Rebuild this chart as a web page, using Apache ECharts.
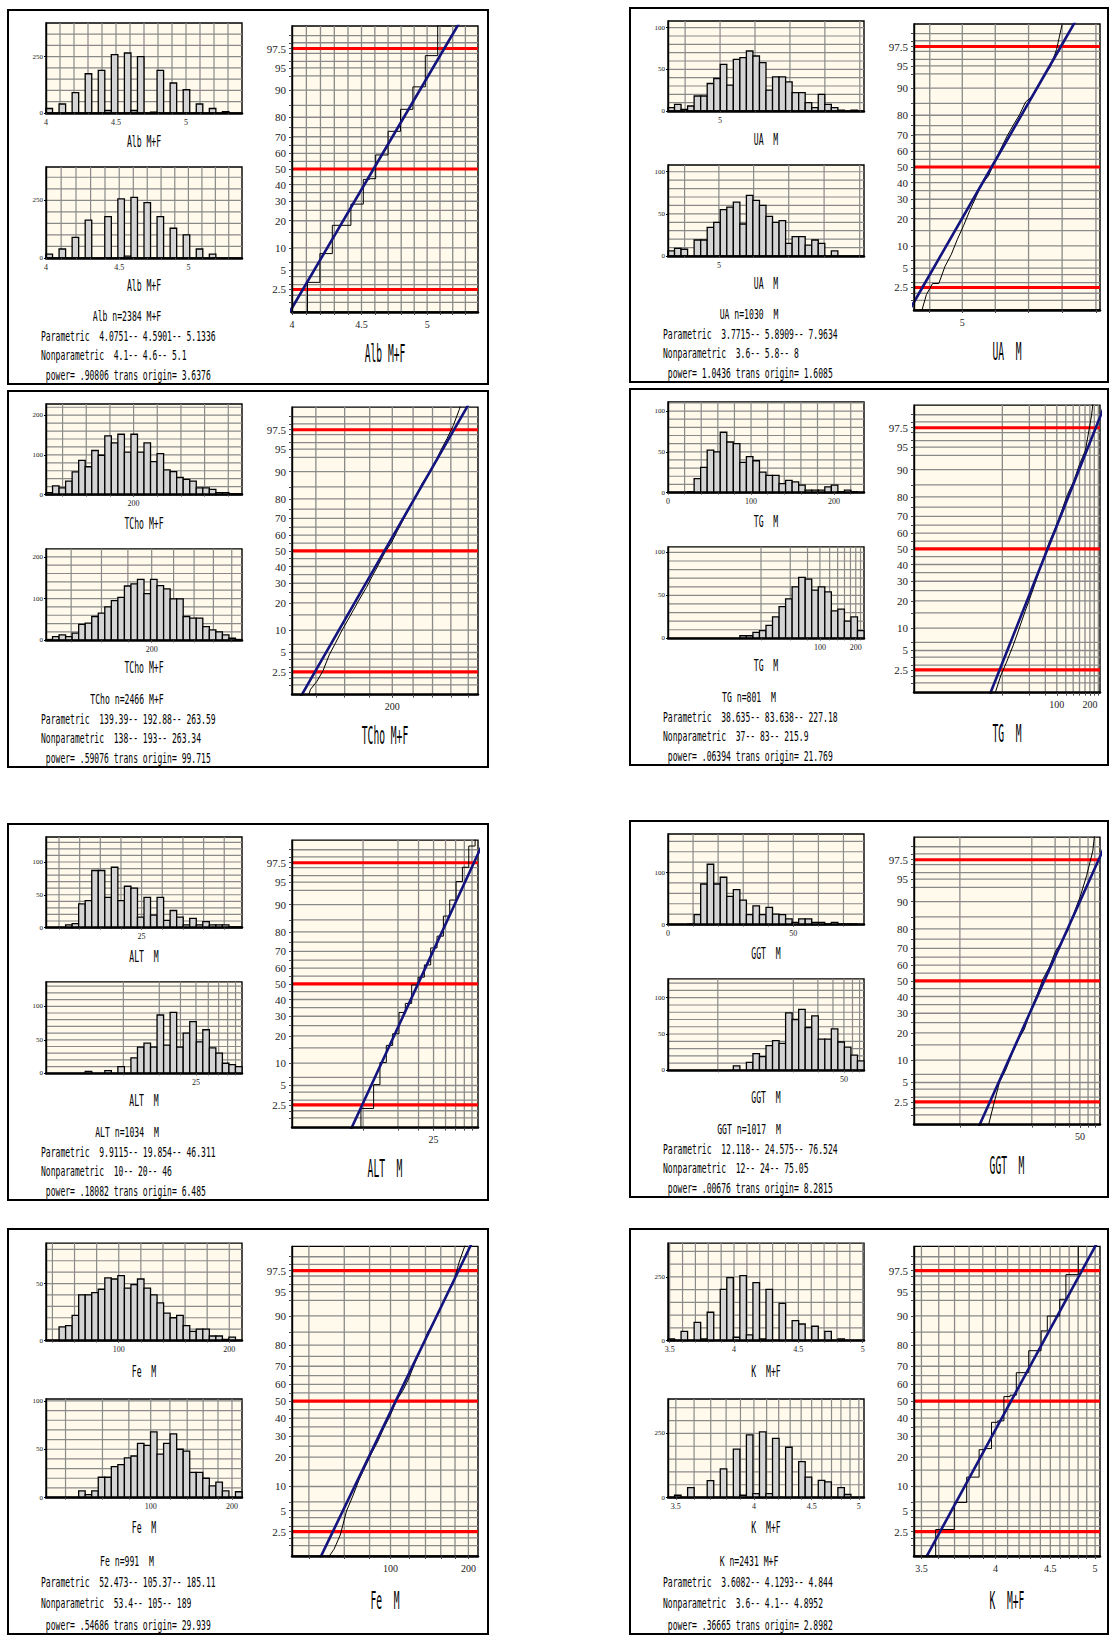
<!DOCTYPE html>
<html><head><meta charset="utf-8">
<script src="https://cdn.jsdelivr.net/npm/echarts@6/dist/echarts.min.js"></script>
<style>html,body{margin:0;padding:0;background:#fff;}#c{width:1112px;height:1636px;}</style>
</head><body><div id="c"></div>
<script>
// ================= DATA =================
// Alb
const albText = ['Alb M+F', 'Alb n=2384 M+F', 'Parametric  4.0751-- 4.5901-- 5.1336', 'Nonparametric  4.1-- 4.6-- 5.1', ' power= .90806 trans origin= 3.6376'];
const albTrans = [3.6376, 0.90806];
const albParam = [4.0751, 4.5901, 5.1336];
const albH1Axis = [4.0, 5.4, 0.1], albH1Labels = [4, 4.5, 5], albH1Y = [50, 250];
const albH1 = [20,0,40,0,90,0,174,0,189,11,259,0,266,11,250,0,4,189,0,133,0,103,0,40,0,20,0,6,0,0];
const albH2Axis = [4.0, 5.4, 0.1], albH2Labels = [4, 4.5, 5], albH2Y = [50, 250];
const albH2 = [17,0,39,0,89,0,164,0,0,179,0,256,8,263,0,240,0,179,0,129,0,100,0,39,0,17,0,0,0,0];
const albPPAxis = [4.0, 5.4, 0.1], albPPLabels = [4, 4.5, 5];
// UA
const uaText = ['UA  M', 'UA n=1030  M', 'Parametric  3.7715-- 5.8909-- 7.9634', 'Nonparametric  3.6-- 5.8-- 8', ' power= 1.0436 trans origin= 1.6085'];
const uaTrans = [1.6085, 1.0436];
const uaParam = [3.7715, 5.8909, 7.9634];
const uaH1Axis = [3.51, 9.12, 1], uaH1Labels = [5], uaH1Y = [10, 50];
const uaH1 = [4,8,2,6,18,18,33,39,56,31,62,64,72,66,58,25,41,41,35,22,22,10,4,20,8,4,1,0,1,0];
const uaH2Axis = [3.51, 9.12, 1], uaH2Labels = [5], uaH2Y = [10, 50];
const uaH2 = [6,9,8,0,19,19,34,40,55,58,64,38,72,66,60,47,40,42,15,23,23,13,19,15,0,6,0,0,0,0];
const uaPPAxis = [3.51, 9.12, 1], uaPPLabels = [5];
// TCho
const tchoText = ['TCho M+F', 'TCho n=2466 M+F', 'Parametric  139.39-- 192.88-- 263.59', 'Nonparametric  138-- 193-- 263.34', ' power= .59076 trans origin= 99.715'];
const tchoTrans = [99.715, 0.59076];
const tchoParam = [139.39, 192.88, 263.59];
const tchoH1Axis = [126, 291.6, 20], tchoH1Labels = [200], tchoH1Y = [20, 100];
const tchoH1 = [5,22,17,34,57,86,70,111,99,148,130,152,107,152,107,130,83,103,62,58,43,38,34,17,17,13,5,5,2,2];
const tchoH2Axis = [126, 291.6, 20], tchoH2Labels = [200], tchoH2Y = [20, 100];
const tchoH2 = [2,9,13,9,17,38,41,57,65,80,95,103,130,135,146,112,146,131,123,99,99,57,53,53,33,25,20,13,5,2];
const tchoPPAxis = [126, 291.6, 20], tchoPPLabels = [200];
// TG
const tgText = ['TG  M', 'TG n=801  M', 'Parametric  38.635-- 83.638-- 227.18', 'Nonparametric  37-- 83-- 215.9', ' power= .06394 trans origin= 21.769'];
const tgTrans = [21.769, 0.06394];
const tgParam = [38.635, 83.638, 227.18];
const tgH1Axis = [0, 236, 20], tgH1Labels = [0, 100, 200], tgH1Y = [10, 50];
const tgH1 = [0,0,0,1,17,31,52,50,74,62,60,37,44,39,25,21,21,11,15,13,9,3,3,3,7,9,1,3,1,0];
const tgH2Axis = [23.1, 236, 20], tgH2Labels = [100, 200], tgH2Y = [10, 50];
const tgH2 = [0,0,0,0,0,0,0,0,0,0,0,3,3,7,9,15,25,37,46,60,71,69,56,60,54,32,34,20,25,9];
const tgPPAxis = [23, 249, 20], tgPPLabels = [100, 200];
// ALT
const altText = ['ALT  M', 'ALT n=1034  M', 'Parametric  9.9115-- 19.854-- 46.311', 'Nonparametric  10-- 20-- 46', ' power= .18082 trans origin= 6.485'];
const altTrans = [6.485, 0.18082];
const altParam = [9.9115, 19.854, 46.311];
const altH1Axis = [1.85, 49.3, 5], altH1Labels = [25], altH1Y = [10, 50];
const altH1 = [0,0,0,4,6,36,41,87,87,46,92,41,63,60,16,46,19,46,11,26,16,4,14,4,9,4,4,4,1,1];
const altH2Axis = [6.75, 49.5, 5], altH2Labels = [25], altH2Y = [10, 50];
const altH2 = [0,0,0,0,0,0,3,0,0,4,0,10,0,23,39,45,39,87,42,91,39,60,77,47,65,38,30,15,13,10];
const altPPAxis = [6.8, 49.3, 5], altPPLabels = [25];
// GGT
const ggtText = ['GGT  M', 'GGT n=1017  M', 'Parametric  12.118-- 24.575-- 76.524', 'Nonparametric  12-- 24-- 75.05', ' power= .00676 trans origin= 8.2815'];
const ggtTrans = [8.2815, 0.00676];
const ggtParam = [12.118, 24.575, 76.524];
const ggtH1Axis = [0, 78.2, 10], ggtH1Labels = [0, 50], ggtH1Y = [20, 100];
const ggtH1 = [0,0,0,1,19,78,116,78,91,54,67,47,19,36,19,33,20,19,11,4,11,11,4,4,1,4,1,1,1,0];
const ggtH2Axis = [8.76, 77.2, 10], ggtH2Labels = [50], ggtH2Y = [10, 50];
const ggtH2 = [0,0,0,0,0,0,0,0,0,0,6,0,11,23,19,34,41,37,79,70,84,59,75,43,43,57,39,32,21,13];
const ggtPPAxis = [8.78, 79, 10], ggtPPLabels = [50];
// Fe
const feText = ['Fe  M', 'Fe n=991  M', 'Parametric  52.473-- 105.37-- 185.11', 'Nonparametric  53.4-- 105-- 189', ' power= .54686 trans origin= 29.939'];
const feTrans = [29.939, 0.54686];
const feParam = [52.473, 105.37, 185.11];
const feH1Axis = [34.2, 211.5, 20], feH1Labels = [100, 200], feH1Y = [10, 50];
const feH1 = [0,0,12,13,22,40,40,42,45,55,54,57,46,49,54,46,40,33,24,20,22,13,8,10,10,4,4,1,3,0];
const feH2Axis = [33.5, 215, 20], feH2Labels = [100, 200], feH2Y = [10, 50];
const feH2 = [0,0,0,0,0,7,3,7,21,21,32,34,41,43,56,54,68,45,56,66,50,48,26,26,20,12,16,7,0,6];
const fePPAxis = [34, 215, 20], fePPLabels = [100, 200];
// K
const kText = ['K  M+F', 'K n=2431 M+F', 'Parametric  3.6082-- 4.1293-- 4.844', 'Nonparametric  3.6-- 4.1-- 4.8952', ' power= .36665 trans origin= 2.8982'];
const kTrans = [2.8982, 0.36665];
const kParam = [3.6082, 4.1293, 4.844];
const kH1Axis = [3.487, 5.01, 0.1], kH1Labels = [3.5, 4, 4.5, 5], kH1Y = [50, 250];
const kH1 = [6,0,36,0,71,6,111,0,201,247,13,255,22,227,6,201,0,146,0,78,65,0,56,0,36,0,6,0,0,0];
const kH2Axis = [3.46, 5.06, 0.1], kH2Labels = [3.5, 4, 4.5, 5], kH2Y = [50, 250];
const kH2 = [0,9,0,39,0,0,66,0,112,0,189,9,244,15,256,15,231,0,196,0,140,80,0,67,61,0,39,12,0,0];
const kPPAxis = [3.46, 5.06, 0.1], kPPLabels = [3.5, 4, 4.5, 5];
// probability axis
const gridPct = [1.5,2,2.5,3,4,5,6.5,10,15,20,25,30,35,40,45,50,55,60,65,70,75,80,85,90,93.5,95,96,97,97.5,98,98.5];
const tickPct = [2.5,5,10,20,30,40,50,60,70,80,90,95,97.5];
const refPct = [2.5, 50, 97.5];

// ================= HELPERS =================
const SERIF = '"Liberation Serif","DejaVu Serif",serif';
const MONO = '"DejaVu Sans Mono","Liberation Mono",monospace';
const BG = '#fffaeb', GRIDC = '#8a8a8a';
function Z(pct){const p=pct/100;
const a=[-3.969683028665376e+01,2.209460984245205e+02,-2.759285104469687e+02,1.383577518672690e+02,-3.066479806614716e+01,2.506628277459239e+00];
const b=[-5.447609879822406e+01,1.615858368580409e+02,-1.556989798598866e+02,6.680131188771972e+01,-1.328068155288572e+01];
const c=[-7.784894002430293e-03,-3.223964580411365e-01,-2.400758277161838e+00,-2.549732539343734e+00,4.374664141464968e+00,2.938163982698783e+00];
const d=[7.784695709041462e-03,3.224671290700398e-01,2.445134137142996e+00,3.754408661907416e+00];
const pl=0.02425;let q,r;
if(p<pl){q=Math.sqrt(-2*Math.log(p));return (((((c[0]*q+c[1])*q+c[2])*q+c[3])*q+c[4])*q+c[5])/((((d[0]*q+d[1])*q+d[2])*q+d[3])*q+1);}
if(p<=1-pl){q=p-0.5;r=q*q;return (((((a[0]*r+a[1])*r+a[2])*r+a[3])*r+a[4])*r+a[5])*q/(((((b[0]*r+b[1])*r+b[2])*r+b[3])*r+b[4])*r+1);}
q=Math.sqrt(-2*Math.log(1-p));return -(((((c[0]*q+c[1])*q+c[2])*q+c[3])*q+c[4])*q+c[5])/((((d[0]*q+d[1])*q+d[2])*q+d[3])*q+1);}
const Zc = p => p <= 0 ? -3.5 : (p >= 100 ? 3.5 : Z(p));
const ZM = Z(99);
const T = (tr, x) => Math.pow(x - tr[0], tr[1]);
function steps(a, b, st){const out=[];for(let k=Math.ceil(a/st-1e-9);k*st<=b+1e-9;k++){out.push(Math.round(k*st*1e6)/1e6);}return out;}
function inner(a, b, vals){const e=(b-a)*1e-4;return vals.filter(v=>v>a+e&&v<b-e);}
function nearestFmt(vals, labels){return v=>{let bi=0,bd=Infinity;vals.forEach((u,i)=>{const dd=Math.abs(u-v);if(dd<bd){bd=dd;bi=i;}});return String(labels[bi]);};}
function sp(s){return s.replace(/^ /,'\u00a0').replace(/  /g,' \u00a0');}

const option = {animation:false, backgroundColor:'#ffffff', grid:[], xAxis:[], yAxis:[], series:[], graphic:[]};

function addGrid(r){option.grid.push({left:r.x, top:r.y, width:r.w, height:r.h, show:true, backgroundColor:BG, borderColor:'#000', borderWidth:1.4, containLabel:false});return option.grid.length-1;}
function lineSeries(xi, yi, vals, dir, color, width, z){
  return {type:'custom', xAxisIndex:xi, yAxisIndex:yi, z:z, silent:true,
    data: vals.map(v => dir === 'v' ? [v, 0] : [0, v]), encode:{x:0, y:1},
    renderItem:(params, api)=>{const cs=params.coordSys;const p=api.coord([api.value(0),api.value(1)]);
      if(dir==='v') return {type:'line', shape:{x1:p[0],y1:cs.y,x2:p[0],y2:cs.y+cs.height}, style:{stroke:color,lineWidth:width}};
      return {type:'line', shape:{x1:cs.x,y1:p[1],x2:cs.x+cs.width,y2:p[1]}, style:{stroke:color,lineWidth:width}};}};
}
function addText(x, y, s, cap, cw, align){
  const fs = cap/0.73, sx = cw/(0.602*fs);
  option.graphic.push({type:'text', x:x, y:y, scaleX:sx, z:100, silent:true,
    style:{text:sp(s), fontSize:fs, fontFamily:MONO, fill:'#000', align:align, verticalAlign:'middle', textAlign:align, textVerticalAlign:'middle'}});
}

function histogram(P, counts, ax, labs, yg, trans, r){
  const g = addGrid(r);
  const f = trans ? (x => T(P.tr, x)) : (x => x);
  const lo = f(ax[0]), hi = f(ax[1]);
  const xi = option.xAxis.length, yi = option.yAxis.length;
  const ymax = 1.5*Math.max(...counts);
  const gv = inner(ax[0], ax[1], steps(ax[0], ax[1], ax[2])).map(f);
  const lv = labs.map(f);
  option.xAxis.push({type:'value', gridIndex:g, min:lo, max:hi, z:10,
    axisLine:{show:true, onZero:false, lineStyle:{color:'#000', width:2.5}},
    axisTick:{show:true, customValues:gv.concat(lv), length:2, lineStyle:{color:'#444', width:1}},
    axisLabel:{show:true, customValues:lv, formatter:nearestFmt(lv, labs), fontFamily:SERIF, fontSize:8, color:'#222', margin:5},
    splitLine:{show:false}});
  const yl = steps(0, ymax, yg[1]);
  option.yAxis.push({type:'value', gridIndex:g, min:0, max:ymax, z:10,
    axisLine:{show:true, lineStyle:{color:'#000', width:1.4}},
    axisTick:{show:true, customValues:yl, length:2, lineStyle:{color:'#000'}},
    axisLabel:{show:true, customValues:yl, fontFamily:SERIF, fontSize:7, color:'#222', margin:3},
    splitLine:{show:false}});
  option.series.push(lineSeries(xi, yi, gv, 'v', GRIDC, 1.2, 1));
  option.series.push(lineSeries(xi, yi, inner(0, ymax, steps(0, ymax, yg[0])), 'h', GRIDC, 1.2, 1));
  const bw = (hi - lo)/counts.length;
  const data = [];
  counts.forEach((c, k) => { if (c > 0) data.push([lo + k*bw, lo + (k+1)*bw, c]); });
  option.series.push({type:'custom', xAxisIndex:xi, yAxisIndex:yi, z:2, silent:true, data:data, encode:{x:[0,1], y:2},
    renderItem:(params, api)=>{const a=api.coord([api.value(0),api.value(2)]);const b=api.coord([api.value(1),0]);
      return {type:'rect', shape:{x:a[0], y:a[1], width:b[0]-a[0], height:b[1]-a[1]}, style:{fill:'#d4d4d4', stroke:'#000', lineWidth:1.3}};}});
}

function prob(P, r, mode){
  const g = addGrid(r);
  const f = x => T(P.tr, x);
  const lo = f(P.ppAxis[0]), hi = f(P.ppAxis[1]);
  const xi = option.xAxis.length, yi = option.yAxis.length;
  const gv = inner(P.ppAxis[0], P.ppAxis[1], steps(P.ppAxis[0], P.ppAxis[1], P.ppAxis[2])).map(f);
  const lv = P.ppLabels.map(f);
  option.xAxis.push({type:'value', gridIndex:g, min:lo, max:hi, z:10,
    axisLine:{show:true, onZero:false, lineStyle:{color:'#000', width:2.5}},
    axisTick:{show:true, customValues:gv.concat(lv), length:3, lineStyle:{color:'#444'}},
    axisLabel:{show:true, customValues:lv, formatter:nearestFmt(lv, P.ppLabels), fontFamily:SERIF, fontSize:10, color:'#222', margin:7},
    splitLine:{show:false}});
  const tz = tickPct.map(Z);
  option.yAxis.push({type:'value', gridIndex:g, min:-ZM, max:ZM, z:10,
    axisLine:{show:true, onZero:false, lineStyle:{color:'#000', width:1.4}},
    axisTick:{show:true, customValues:gridPct.map(Z), length:3, lineStyle:{color:'#444'}},
    axisLabel:{show:true, customValues:tz, formatter:nearestFmt(tz, tickPct), fontFamily:SERIF, fontSize:11, color:'#222', margin:6},
    splitLine:{show:false}});
  option.series.push(lineSeries(xi, yi, gv, 'v', GRIDC, 1.3, 1));
  option.series.push(lineSeries(xi, yi, gridPct.map(Z), 'h', GRIDC, 1.3, 1));
  option.series.push(lineSeries(xi, yi, refPct.map(Z), 'h', '#ff0000', 3.2, 3));
  // empirical cumulative distribution, accumulated from the second histogram's counts
  const h2lo = f(P.h2Axis[0]), h2hi = f(P.h2Axis[1]), bw = (h2hi - h2lo)/P.h2.length;
  const N = P.h2.reduce((s, c) => s + c, 0);
  let cum = 0; const pts = [];
  if (mode === 'step') {
    P.h2.forEach((c, k) => { if (!c) return; const xc = h2lo + (k + 0.5)*bw; pts.push([xc, Zc(cum/N*100)]); cum += c; pts.push([xc, Zc(cum/N*100)]); });
  } else {
    const k0 = P.h2.findIndex(c => c > 0);
    pts.push([h2lo + k0*bw, Zc(0)]);
    P.h2.forEach((c, k) => { if (k < k0) return; cum += c; pts.push([h2lo + (k + 1)*bw, Zc(cum/(N + 1)*100)]); });
  }
  option.series.push({type:'line', xAxisIndex:xi, yAxisIndex:yi, z:4, silent:true, data:pts, showSymbol:false, symbol:'none', clip:true,
    lineStyle:{color:'#000', width:1}});
  // fitted normal line through the parametric limits
  const tl = f(P.param[0]), tm = f(P.param[1]), th = f(P.param[2]);
  const zl = Z(2.5), zh = Z(97.5), sl = (th - tl)/(zh - zl);
  const fit = [[tl + (-3 - zl)*sl, -3], [tl, zl], [tm, 0], [th, zh], [tl + (3 - zl)*sl, 3]];
  option.series.push({type:'line', xAxisIndex:xi, yAxisIndex:yi, z:5, silent:true, data:fit, showSymbol:false, symbol:'none', clip:true,
    lineStyle:{color:'#14147e', width:2.6}});
}

const colX = [8, 630], colW = [480, 478];
const rowY = [[10, 8], [391, 389], [824, 821], [1229, 1229]];
const rowH = [374, 376, 376, 405];

function build(P, col, row, mode){
  const px = colX[col], py = rowY[row][col], h = rowH[row], w = colW[col], s = h/374;
  option.graphic.push({type:'rect', z:50, silent:true, shape:{x:px, y:py, width:w, height:h}, style:{fill:'transparent', stroke:'#000', lineWidth:2}});
  histogram(P, P.h1, P.h1Axis, P.h1Labels, P.h1Y, false, {x:px+38, y:py+13*s, w:196, h:90*s});
  histogram(P, P.h2, P.h2Axis, P.h2Labels, P.h2Y, true, {x:px+38, y:py+157*s, w:196, h:91*s});
  prob(P, {x:px+284, y:py+16*s, w:186, h:286*s}, mode);
  addText(px+136, py+132*s, P.text[0], 11, 4.9, 'center');
  addText(px+136, py+276*s, P.text[0], 11, 4.9, 'center');
  addText(px+377, py+343*s, P.text[0], 18.5, 5.8, 'center');
  addText(px+119, py+307*s, P.text[1], 9.9, 4.9, 'center');
  addText(px+33, py+327*s, P.text[2], 9.9, 4.86, 'left');
  addText(px+33, py+346*s, P.text[3], 9.9, 4.86, 'left');
  addText(px+33, py+366*s, P.text[4], 9.9, 4.86, 'left');
}

const panels = [
  {P:{text:albText, tr:albTrans, param:albParam, h1:albH1, h1Axis:albH1Axis, h1Labels:albH1Labels, h1Y:albH1Y, h2:albH2, h2Axis:albH2Axis, h2Labels:albH2Labels, h2Y:albH2Y, ppAxis:albPPAxis, ppLabels:albPPLabels}, col:0, row:0, mode:'step'},
  {P:{text:uaText, tr:uaTrans, param:uaParam, h1:uaH1, h1Axis:uaH1Axis, h1Labels:uaH1Labels, h1Y:uaH1Y, h2:uaH2, h2Axis:uaH2Axis, h2Labels:uaH2Labels, h2Y:uaH2Y, ppAxis:uaPPAxis, ppLabels:uaPPLabels}, col:1, row:0, mode:'poly'},
  {P:{text:tchoText, tr:tchoTrans, param:tchoParam, h1:tchoH1, h1Axis:tchoH1Axis, h1Labels:tchoH1Labels, h1Y:tchoH1Y, h2:tchoH2, h2Axis:tchoH2Axis, h2Labels:tchoH2Labels, h2Y:tchoH2Y, ppAxis:tchoPPAxis, ppLabels:tchoPPLabels}, col:0, row:1, mode:'poly'},
  {P:{text:tgText, tr:tgTrans, param:tgParam, h1:tgH1, h1Axis:tgH1Axis, h1Labels:tgH1Labels, h1Y:tgH1Y, h2:tgH2, h2Axis:tgH2Axis, h2Labels:tgH2Labels, h2Y:tgH2Y, ppAxis:tgPPAxis, ppLabels:tgPPLabels}, col:1, row:1, mode:'poly'},
  {P:{text:altText, tr:altTrans, param:altParam, h1:altH1, h1Axis:altH1Axis, h1Labels:altH1Labels, h1Y:altH1Y, h2:altH2, h2Axis:altH2Axis, h2Labels:altH2Labels, h2Y:altH2Y, ppAxis:altPPAxis, ppLabels:altPPLabels}, col:0, row:2, mode:'step'},
  {P:{text:ggtText, tr:ggtTrans, param:ggtParam, h1:ggtH1, h1Axis:ggtH1Axis, h1Labels:ggtH1Labels, h1Y:ggtH1Y, h2:ggtH2, h2Axis:ggtH2Axis, h2Labels:ggtH2Labels, h2Y:ggtH2Y, ppAxis:ggtPPAxis, ppLabels:ggtPPLabels}, col:1, row:2, mode:'poly'},
  {P:{text:feText, tr:feTrans, param:feParam, h1:feH1, h1Axis:feH1Axis, h1Labels:feH1Labels, h1Y:feH1Y, h2:feH2, h2Axis:feH2Axis, h2Labels:feH2Labels, h2Y:feH2Y, ppAxis:fePPAxis, ppLabels:fePPLabels}, col:0, row:3, mode:'poly'},
  {P:{text:kText, tr:kTrans, param:kParam, h1:kH1, h1Axis:kH1Axis, h1Labels:kH1Labels, h1Y:kH1Y, h2:kH2, h2Axis:kH2Axis, h2Labels:kH2Labels, h2Y:kH2Y, ppAxis:kPPAxis, ppLabels:kPPLabels}, col:1, row:3, mode:'step'}
];
panels.forEach(p => build(p.P, p.col, p.row, p.mode));

const chart = echarts.init(document.getElementById('c'), null, {renderer:'svg', width:1112, height:1636});
chart.setOption(option);
</script>
</body></html>
